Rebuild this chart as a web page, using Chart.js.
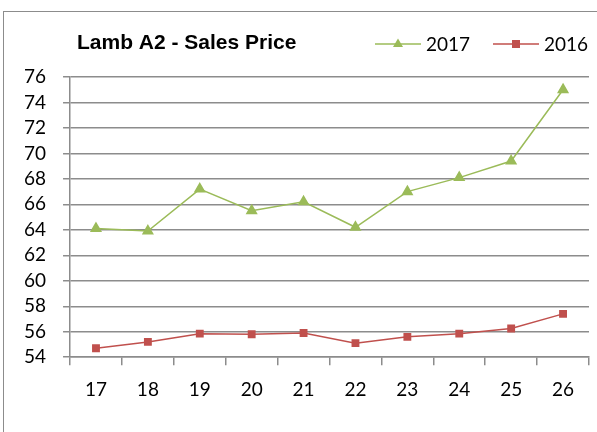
<!DOCTYPE html>
<html>
<head>
<meta charset="utf-8">
<script src="https://cdn.jsdelivr.net/npm/chart.js@4"></script>
<style>
  html, body { margin: 0; padding: 0; background: #fff; overflow: hidden; }
  #box { position: absolute; left: 3px; top: 11px; width: 620px; height: 440px; border: 1px solid #8c8c8c; }
  #wrap { position: absolute; left: 0; top: 0; width: 597px; height: 432px; }
</style>
</head>
<body>
<div id="box"></div>
<div id="wrap"><canvas id="myChart" width="597" height="432"></canvas></div>
<script>
const weeks = ["17", "18", "19", "20", "21", "22", "23", "24", "25", "26"];
const price2017 = [64.1, 63.9, 67.2, 65.5, 66.2, 64.2, 67.0, 68.1, 69.4, 75.0];
const price2016 = [54.7, 55.2, 55.85, 55.8, 55.9, 55.1, 55.6, 55.85, 56.25, 57.4];
const chartTitle = "Lamb A2 - Sales Price";

// titulo e legenda na mesma linha, como no Excel
const headerPlugin = {
    id: "header",
    afterDraw(chart) {
        const ctx = chart.ctx;
        ctx.save();
        ctx.fillStyle = "#000";
        ctx.font = "bold 21px 'Liberation Sans', Arial";
        ctx.textBaseline = "middle";
        ctx.fillText(chartTitle, 77, 43);

        const items = [
            { x: 375, ds: chart.data.datasets[0] },
            { x: 493, ds: chart.data.datasets[1] },
        ];
        items.forEach(function (it) {
            const y = 44;
            ctx.strokeStyle = it.ds.borderColor;
            ctx.lineWidth = 1.5;
            ctx.beginPath();
            ctx.moveTo(it.x, y);
            ctx.lineTo(it.x + 46, y);
            ctx.stroke();
            ctx.fillStyle = it.ds.backgroundColor;
            const cx = it.x + 23;
            if (it.ds.pointStyle === "triangle") {
                ctx.beginPath();
                ctx.moveTo(cx, y - 5.5);
                ctx.lineTo(cx + 5, y + 3);
                ctx.lineTo(cx - 5, y + 3);
                ctx.closePath();
                ctx.fill();
            } else {
                ctx.fillRect(cx - 4, y - 4, 8, 8);
            }
            ctx.fillStyle = "#000";
            ctx.font = "19px Lato";
            ctx.fillText(it.ds.label, it.x + 51, y + 1);
        });
        ctx.restore();
    }
};

const ctx = document.getElementById("myChart").getContext("2d");
new Chart(ctx, {
    type: "line",
    data: {
        labels: weeks,
        datasets: [{
            label: "2017",
            data: price2017,
            borderColor: "#9BBB59",
            backgroundColor: "#9BBB59",
            borderWidth: 1.5,
            pointStyle: "triangle",
            pointRadius: 5.5,
            tension: 0,
        }, {
            label: "2016",
            data: price2016,
            borderColor: "#C0504D",
            backgroundColor: "#C0504D",
            borderWidth: 1.5,
            pointStyle: "rect",
            pointRadius: 4.5,
            tension: 0,
        }],
    },
    options: {
        responsive: false,
        animation: false,
        layout: { padding: { top: 77, right: 8, left: 7, bottom: 18 } },
        plugins: {
            legend: { display: false },
            title: { display: false },
            tooltip: { enabled: false },
        },
        scales: {
            y: {
                min: 54,
                max: 76,
                ticks: { stepSize: 2, autoSkip: false, color: "#000", font: { family: "Lato", size: 19 }, padding: 17 },
                grid: { color: "#8c8c8c", lineWidth: 1.5, tickLength: 7 },
                border: { color: "#8c8c8c", width: 1.5 },
            },
            x: {
                offset: true,
                ticks: { autoSkip: false, color: "#000", font: { family: "Lato", size: 19 }, padding: 13 },
                grid: { offset: true, drawOnChartArea: false, color: "#8c8c8c", lineWidth: 1.5, tickLength: 8 },
                border: { color: "#8c8c8c", width: 1.5 },
            },
        },
    },
    plugins: [headerPlugin],
});
</script>
</body>
</html>
